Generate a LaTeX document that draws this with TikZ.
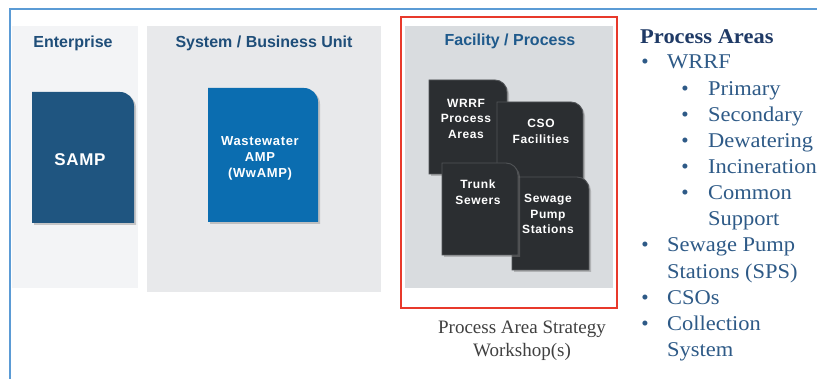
\documentclass[tikz,border=0pt]{standalone}
\usepackage{fontspec}
\setmainfont{Liberation Serif}
\setsansfont{Liberation Sans}
\newfontfamily\cardfont[LetterSpace=5]{Liberation Sans}
\newfontfamily\bigcardfont[LetterSpace=4]{Liberation Sans}
\usetikzlibrary{shadows}
\definecolor{framecol}{HTML}{5B9BD5}
\definecolor{panelA}{HTML}{F3F4F6}
\definecolor{panelB}{HTML}{E8E9EB}
\definecolor{panelC}{HTML}{D9DCDF}
\definecolor{titlecol}{HTML}{1F4E79}
\definecolor{titlecolC}{HTML}{1F5A8C}
\definecolor{sampcol}{HTML}{1F5580}
\definecolor{wwcol}{HTML}{0B6DB0}
\definecolor{cardcol}{HTML}{2B2E31}
\definecolor{cardedge}{HTML}{505356}
\definecolor{redcol}{HTML}{E8392B}
\definecolor{listcol}{HTML}{2E5A87}
\definecolor{headcol}{HTML}{1F3A66}
\definecolor{capcol}{HTML}{404040}
\newcommand{\cardpath}[5]{% x1,y1,x2,y2,r (y measured downward)
  (#1,-#4) -- (#1,-#2) -- ({#3-#5},-#2) arc[start angle=90,end angle=0,radius=#5] -- (#3,-#4) -- cycle}
\newcommand{\wide}[1]{\scalebox{1.07}[1]{#1}}
\begin{document}
\begin{tikzpicture}[x=1pt,y=1pt,
  title/.style={font=\sffamily\bfseries\fontsize{16}{18}\selectfont, text=titlecol, anchor=center, inner sep=0pt},
  cardtext/.style={font=\cardfont\bfseries\fontsize{12}{15.5}\selectfont, text=white, align=center, inner sep=0pt},
  dark/.style={fill=cardcol, draw=cardedge, line width=0.9pt, drop shadow={opacity=0.45, shadow xshift=2pt, shadow yshift=-2pt}},
  bluecard/.style={drop shadow={opacity=0.4, shadow xshift=2pt, shadow yshift=-2pt}},
  listitem/.style={font=\fontsize{21}{26}\selectfont, text=listcol, anchor=base west, inner sep=0pt},
  bullet/.style={font=\fontsize{21}{26}\selectfont, text=listcol, anchor=base, inner sep=0pt}]
\useasboundingbox (0,0) rectangle (817,-379);
\fill[white] (0,0) rectangle (817,-379);
% frame
\draw[framecol, line width=2.6pt] (10,-379) -- (10,-9) -- (817,-9);
% panels
\fill[panelA] (11.5,-26) rectangle (138,-288);
\fill[panelB] (147,-26) rectangle (381,-292);
\fill[panelC] (405,-26) rectangle (613,-288);
\draw[redcol, line width=2pt] (401,-17) rectangle (617,-308);
% titles
\node[title] (tEnt) at (73,-43) {Enterprise};
\node[title] (tSys) at (264,-43) {System / Business Unit};
\node[title, text=titlecolC] (tFac) at (510,-41) {Facility / Process};
% SAMP
\fill[sampcol, bluecard] \cardpath{32}{92}{134}{223}{14};
\node[font=\bigcardfont\bfseries\fontsize{17}{20}\selectfont, text=white, inner sep=0pt] (samp) at (80,-160) {SAMP};
% WwAMP
\fill[wwcol, bluecard] \cardpath{208}{88}{318}{222}{14};
\node[font=\cardfont\bfseries\fontsize{13}{16}\selectfont, text=white, align=center, inner sep=0pt] (wwamp) at (260,-158) {Wastewater\\AMP\\(WwAMP)};
% facility cards
\path[dark] \cardpath{429}{80}{507}{174}{12};
\node[cardtext] (wrrf) at (466,-118.5) {WRRF\\Process\\Areas};
\path[dark] \cardpath{497}{102}{583}{190}{12};
\node[cardtext] (cso) at (541,-131.5) {CSO\\Facilities};
\path[dark] \cardpath{512}{177}{589}{270}{12};
\node[cardtext] (sps) at (548,-214) {Sewage\\Pump\\Stations};
\path[dark] \cardpath{442}{163}{518}{255}{12};
\node[cardtext] (trunk) at (478,-192) {Trunk\\Sewers};
% caption
\node[font=\fontsize{19}{23}\selectfont, text=capcol, align=center, inner sep=0pt] (cap) at (522,-341) {Process Area Strategy\\Workshop(s)};
% list
\node[font=\bfseries\fontsize{21}{26}\selectfont, text=headcol, anchor=base west, inner sep=0pt] (head) at (640,-44) {\wide{Process Areas}};
\foreach \t/\y [count=\i] in {WRRF/69, {Sewage Pump}/252, {CSOs}/305, {Collection}/331}{
  \node[bullet] (b\i) at (645,-\y) {•};
  \node[listitem] (l\i) at (667,-\y) {\wide{\t}};
}
\node[listitem] (l2b) at (667,-279) {\wide{Stations (SPS)}};
\node[listitem] (l4b) at (667,-357) {\wide{System}};
\foreach \t/\y [count=\i] in {Primary/96, Secondary/122, Dewatering/148, Incineration/174, Common/200}{
  \node[bullet] (sb\i) at (685,-\y) {•};
  \node[listitem] (sl\i) at (708,-\y) {\wide{\t}};
}
\node[listitem] (sl5b) at (708,-226) {\wide{Support}};
\end{tikzpicture}
\end{document}
